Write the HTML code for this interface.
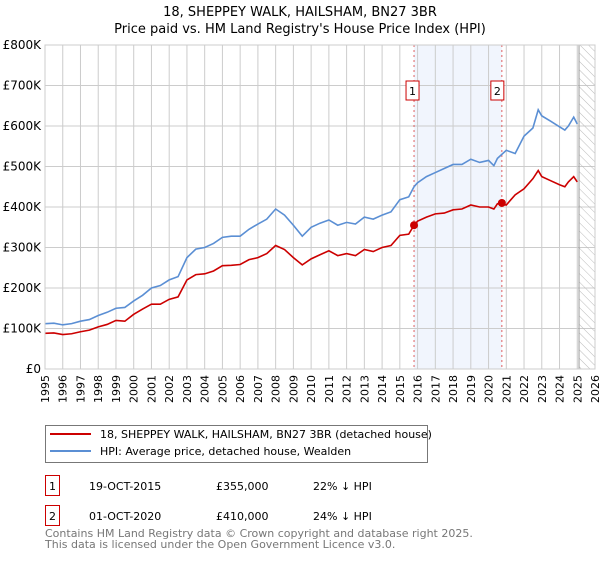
<!DOCTYPE html>
<html><head><meta charset="utf-8"><style>
body{margin:0;background:#fff;font-family:"Liberation Sans","DejaVu Sans",sans-serif;}
svg text{font-family:"DejaVu Sans","Liberation Sans",sans-serif;}
</style></head><body>
<svg width="600" height="560" viewBox="0 0 600 560">
<defs><pattern id="hatch" width="6" height="6" patternUnits="userSpaceOnUse" patternTransform="rotate(-45)"><line x1="0" y1="0" x2="0" y2="6" stroke="#bbb" stroke-width="1"/></pattern></defs>
<text x="300" y="16" text-anchor="middle" font-size="13">18, SHEPPEY WALK, HAILSHAM, BN27 3BR</text>
<text x="300" y="33" text-anchor="middle" font-size="13">Price paid vs. HM Land Registry's House Price Index (HPI)</text>
<g id="plot"></g>
<rect x="45.5" y="425.5" width="382" height="37" fill="#fff" stroke="#777"/>
<line x1="50" y1="434" x2="91" y2="434" stroke="#cc0000" stroke-width="2"/>
<text x="100" y="438" font-size="11">18, SHEPPEY WALK, HAILSHAM, BN27 3BR (detached house)</text>
<line x1="50" y1="451" x2="91" y2="451" stroke="#5b8fd4" stroke-width="2"/>
<text x="100" y="455" font-size="11">HPI: Average price, detached house, Wealden</text>
<g>
<rect x="45.5" y="475.5" width="14" height="20" fill="#fff" stroke="#cc0000"/>
<text x="52.5" y="490" text-anchor="middle" font-size="11">1</text>
<text x="89" y="490" font-size="11">19-OCT-2015</text>
<text x="216" y="490" font-size="11">£355,000</text>
<text x="313" y="490" font-size="11">22% ↓ HPI</text></g>
<g>
<rect x="45.5" y="505.5" width="14" height="20" fill="#fff" stroke="#cc0000"/>
<text x="52.5" y="520" text-anchor="middle" font-size="11">2</text>
<text x="89" y="520" font-size="11">01-OCT-2020</text>
<text x="216" y="520" font-size="11">£410,000</text>
<text x="313" y="520" font-size="11">24% ↓ HPI</text></g>
<text x="45" y="537" font-size="11" fill="#777">Contains HM Land Registry data © Crown copyright and database right 2025.</text>
<text x="45" y="548" font-size="11" fill="#777">This data is licensed under the Open Government Licence v3.0.</text>
</svg>
<script>
const hpiYears=[1995,1995.5,1996,1996.5,1997,1997.5,1998,1998.5,1999,1999.5,2000,2000.5,2001,2001.5,2002,2002.5,2003,2003.5,2004,2004.5,2005,2005.5,2006,2006.5,2007,2007.5,2008,2008.5,2009,2009.5,2010,2010.5,2011,2011.5,2012,2012.5,2013,2013.5,2014,2014.5,2015,2015.5,2015.8,2016,2016.5,2017,2017.5,2018,2018.5,2019,2019.5,2020,2020.3,2020.5,2021,2021.5,2022,2022.5,2022.8,2023,2023.5,2024,2024.3,2024.5,2024.8,2025];
const hpiValues=[112,113,109,112,118,122,132,140,150,152,168,182,200,206,220,228,275,296,300,310,325,328,328,345,358,370,395,380,355,328,350,360,368,355,362,358,375,370,380,388,418,425,450,460,475,485,495,505,505,518,510,515,502,520,540,532,575,595,640,625,612,598,590,600,622,605];
const priceYears=hpiYears;
const priceValues=[88,89,85,87,92,96,104,110,120,118,135,148,160,160,172,178,220,233,235,242,255,256,258,270,275,285,305,295,275,257,272,282,292,280,285,280,295,290,300,305,330,333,355,365,375,383,385,393,395,405,400,400,395,408,405,430,445,470,490,475,465,455,450,462,475,462];
const saleYears=[2015.8,2020.75];
const saleValues=[355,410];
const saleLabels=["1","2"];
const yTicks=[0,100,200,300,400,500,600,700,800];
const yTickLabels=["£0","£100K","£200K","£300K","£400K","£500K","£600K","£700K","£800K"];
const xTicks=[];for(let y=1995;y<=2026;y++)xTicks.push(y);

const L=45,R=595,T=45,B=369,NS="http://www.w3.org/2000/svg";
const xs=y=>L+(y-1995)/31*(R-L);
const ys=v=>B-v/800*(B-T);
const g=document.getElementById('plot');
function mk(t,a){const e=document.createElementNS(NS,t);for(const k in a)e.setAttribute(k,a[k]);g.appendChild(e);return e;}
let sh=mk('rect',{x:xs(saleYears[0]),y:T,width:xs(saleYears[1])-xs(saleYears[0]),height:B-T,fill:'#eef3fc',opacity:0.8});


xTicks.forEach(t=>{const l=mk('line',{x1:xs(t),x2:xs(t),y1:T,y2:B,stroke:'#ccc'});


const tx=mk('text',{x:0,y:0,'font-size':'11','text-anchor':'end',transform:`translate(${xs(t)+4},${B+6}) rotate(-90)`});tx.textContent=t;

});
yTicks.forEach((t,i)=>{const l=mk('line',{x1:L,x2:R,y1:ys(t),y2:ys(t),stroke:'#ccc'});


const tx=mk('text',{x:L-4,y:ys(t)+4,'font-size':'12','text-anchor':'end'});tx.textContent=yTickLabels[i];

});
const hx=xs(2025.1);
const h=mk('rect',{x:hx,y:T,width:R-hx,height:B-T,fill:'url(#hatch)',stroke:'#999'});


saleYears.forEach((y,i)=>{const l=mk('line',{x1:xs(y),x2:xs(y),y1:T,y2:B,stroke:'#e06060','stroke-dasharray':'2,3'});

});
const hp=mk('polyline',{points:hpiYears.map((y,i)=>xs(y)+','+ys(hpiValues[i])).join(' '),fill:'none',stroke:'#5b8fd4','stroke-width':1.6});


const pp=mk('polyline',{points:priceYears.map((y,i)=>xs(y)+','+ys(priceValues[i])).join(' '),fill:'none',stroke:'#cc0000','stroke-width':1.6});


saleYears.forEach((y,i)=>{const c=mk('circle',{cx:xs(y),cy:ys(saleValues[i]),r:4,fill:'#cc0000'});


const bx=xs(y)-7-(i==0?1:4);
const r=mk('rect',{x:bx,y:81,width:13,height:19,fill:'#fff',stroke:'#cc0000'});


const t=mk('text',{x:bx+6.5,y:95,'font-size':'11','text-anchor':'middle'});t.textContent=saleLabels[i];

});
const ax=mk('rect',{x:L,y:T,width:R-L,height:B-T,fill:'none',stroke:'#ccc'});


</script>
</body></html>
